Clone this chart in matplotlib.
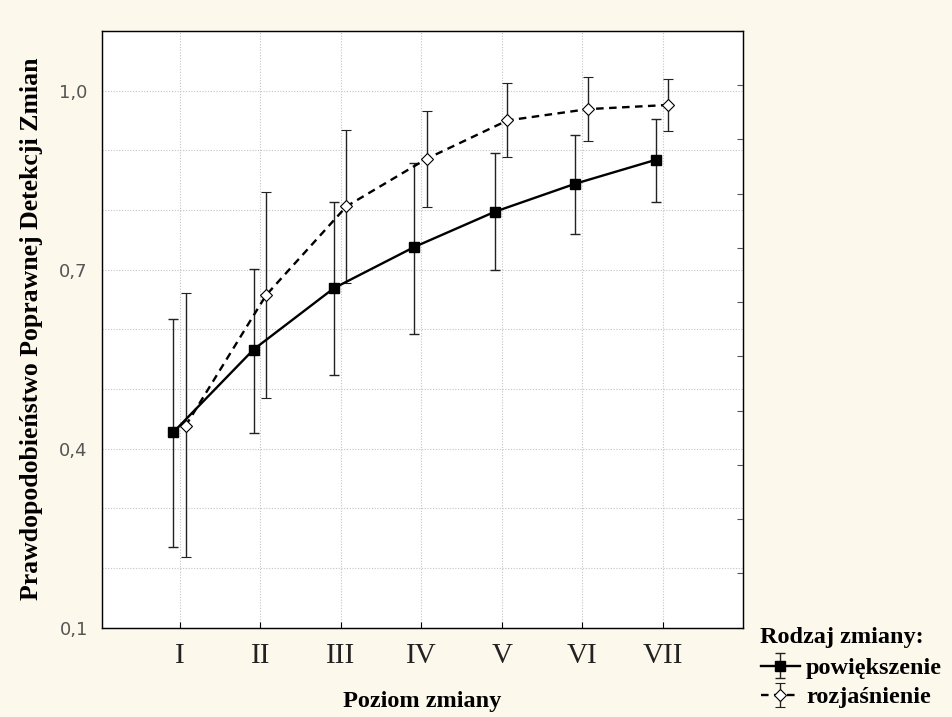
import numpy as np
import matplotlib
matplotlib.use("Agg")
import matplotlib.pyplot as plt
from matplotlib.ticker import FixedLocator, FuncFormatter

# poziomy zmiany
levels = ["I", "II", "III", "IV", "V", "VI", "VII"]

# powiekszenie - srednia i granice przedzialu
pow_mean = [0.427, 0.566, 0.669, 0.738, 0.797, 0.844, 0.884]
pow_low = [0.235, 0.426, 0.524, 0.592, 0.699, 0.760, 0.813]
pow_high = [0.618, 0.701, 0.813, 0.878, 0.896, 0.925, 0.953]

# rozjasnienie
roz_mean = [0.438, 0.657, 0.806, 0.886, 0.950, 0.969, 0.976]
roz_low = [0.218, 0.484, 0.677, 0.805, 0.888, 0.916, 0.932]
roz_high = [0.661, 0.830, 0.934, 0.966, 1.012, 1.023, 1.020]

y_ticks = [0.1, 0.2, 0.3, 0.4, 0.5, 0.6, 0.7, 0.8, 0.9, 1.0, 1.1]
y_labeled = [0.1, 0.4, 0.7, 1.0]

bg = "#fdf8ec"
serif = ["Liberation Serif", "DejaVu Serif"]

fig = plt.figure(figsize=(9.53, 7.17), dpi=100, facecolor=bg)
ax = fig.add_axes([0.1067, 0.1248, 0.6726, 0.832])
ax.set_facecolor("white")

x = np.arange(1, len(levels) + 1)
x_pow = x - 0.085
x_roz = x + 0.07

pm = np.array(pow_mean)
rm = np.array(roz_mean)
pow_err = [pm - np.array(pow_low), np.array(pow_high) - pm]
roz_err = [rm - np.array(roz_low), np.array(roz_high) - rm]

h1 = ax.errorbar(x_pow, pm, yerr=pow_err, color="black", lw=1.7,
                 marker="s", ms=7.5, mfc="black", mec="black",
                 ecolor="#222222", elinewidth=1.0, capsize=3.5, capthick=1.0,
                 label="powiększenie", zorder=3)
h2 = ax.errorbar(x_roz, rm, yerr=roz_err, color="black", lw=1.7,
                 ls=(0, (3.2, 2.3)), marker="D", ms=6, mfc="white",
                 mec="black", mew=0.8,
                 ecolor="#222222", elinewidth=1.0, capsize=3.5, capthick=1.0,
                 label="rozjaśnienie", zorder=3)

ax.set_xlim(0.027, 7.995)
ax.set_ylim(0.1, 1.1)

ax.set_xticks(x)
ax.set_xticklabels(levels, fontsize=21, family=serif, color="#222222")
ax.yaxis.set_major_locator(FixedLocator(y_ticks))
ax.yaxis.set_major_formatter(FuncFormatter(
    lambda v, p: ("%.1f" % v).replace(".", ",")
    if any(abs(v - t) < 1e-6 for t in y_labeled) else ""))
for lab in ax.get_yticklabels():
    lab.set_fontsize(13)
    lab.set_color("#555555")

ax.tick_params(axis="x", direction="in", length=4, pad=11)
ax.tick_params(axis="y", direction="in", length=0, pad=10)
ax.grid(True, ls=(0, (1, 1.5)), color="#c4c4c4", lw=0.8)

for s in ax.spines.values():
    s.set_color("#222222")
    s.set_linewidth(1.0)

# drobne znaczniki na prawej osi
ax2 = ax.twinx()
ax2.set_ylim(0, 11)
ax2.set_yticks(np.arange(0, 12))
ax2.tick_params(axis="y", direction="in", length=4, labelright=False,
                color="#555555")

ax.set_xlabel("Poziom zmiany", fontsize=17.5, fontweight="bold", family=serif,
              labelpad=16)
ax.set_ylabel("Prawdopodobieństwo Poprawnej Detekcji Zmian", fontsize=18.5,
              fontweight="bold", family=serif, labelpad=12)

# legenda
fig.text(760 / 953, 1 - 643 / 717, "Rodzaj zmiany:", family=serif,
         fontweight="bold", fontsize=17.5, va="baseline", ha="left")
leg = fig.legend(handles=[h1, h2], loc="upper left",
                 bbox_to_anchor=(761 / 953, 1 - 657 / 717), frameon=False,
                 prop={"family": serif, "weight": "bold", "size": 17.5},
                 handlelength=1.6, handletextpad=0.25, labelspacing=0.3,
                 borderaxespad=0, borderpad=0)

fig.savefig("out.png", dpi=100, facecolor=bg)
